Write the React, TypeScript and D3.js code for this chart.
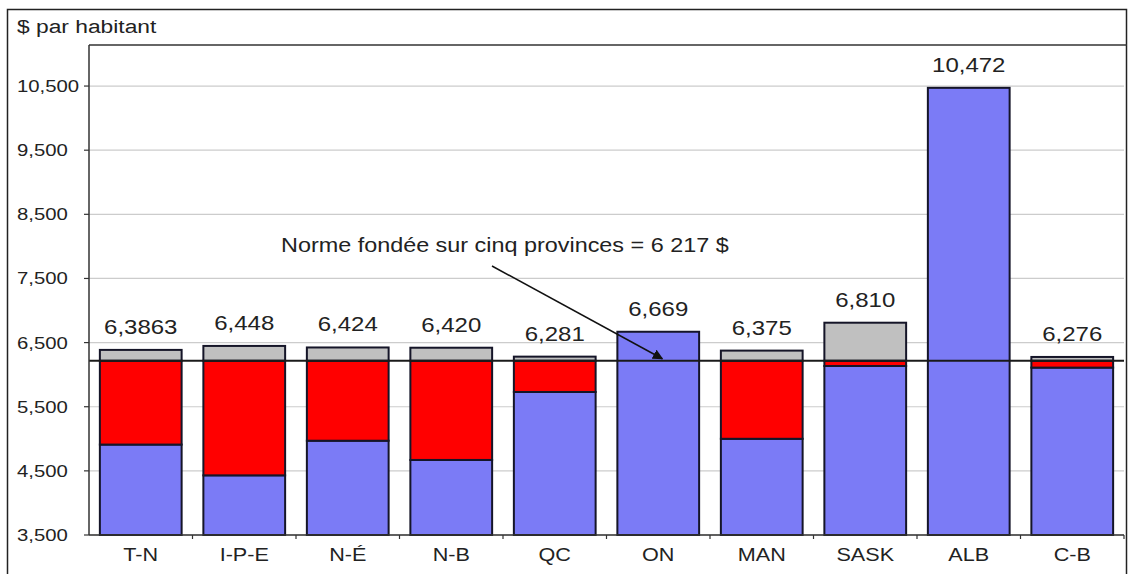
import React from "react";
import * as d3 from "d3";

const categories = ["T-N", "I-P-E", "N-É", "N-B", "QC", "ON", "MAN", "SASK", "ALB", "C-B"];
const ownCapacity = [4910, 4430, 4970, 4670, 5730, 6669, 5000, 6135, 10472, 6110];
const equalization = [1307, 1787, 1247, 1547, 487, 0, 1217, 82, 0, 107];
const aboveNorm = [169, 231, 207, 203, 64, 0, 158, 593, 0, 59];
const totalLabels = ["6,3863", "6,448", "6,424", "6,420", "6,281", "6,669", "6,375", "6,810", "10,472", "6,276"];
const yTicks = [3500, 4500, 5500, 6500, 7500, 8500, 9500, 10500];
const yDomain = [3500, 11140];
const normValue = 6217;
const normLabel = "Norme fondée sur cinq provinces = 6 217 $";
const yTitle = "$ par habitant";

const W = 1129;
const H = 574;
const M = { left: 89, right: 1124, top: 45, bottom: 535 };
const FONT = "'Liberation Sans', Arial, sans-serif";
const SX = 1.2;
const TEXT = "#222";
const COLORS = ["#7b7bf6", "#ff0000", "#c0c0c0"];
const STROKE = "#151528";

function T({ x, y, size, anchor = "start", children, sx = SX }: any) {
  return (
    <text
      transform={`translate(${x},${y}) scale(${sx},1)`}
      fontSize={size}
      fontFamily={FONT}
      fill={TEXT}
      textAnchor={anchor}
    >
      {children}
    </text>
  );
}

export default function App() {
  const x = d3.scaleBand<string>().domain(categories).range([M.left, M.right]).paddingInner(0.21).paddingOuter(0.105);
  const y = d3.scaleLinear().domain(yDomain).range([M.bottom, M.top]);

  const rows = categories.map((c, i) => ({ c, own: ownCapacity[i], eq: equalization[i], above: aboveNorm[i] }));
  const stack = d3.stack<any>().keys(["own", "eq", "above"]).value((d, k) => d[k] - (k === "own" ? yDomain[0] : 0));
  const series = stack(rows);

  const step = x.step();
  const yNorm = y(normValue);
  const onX = (x("ON") as number) + x.bandwidth() * 0.55;
  const arrowStart = [492, 266];
  const arrowEnd = [onX, yNorm - 2];

  return (
    <svg width={W} height={H} style={{ position: "absolute", left: 0, top: 0, background: "#fff" }}>
      <defs>
        <marker id="ah" viewBox="0 0 10 10" refX="9" refY="5" markerWidth="7" markerHeight="7" orient="auto">
          <path d="M0,0 L10,5 L0,10 z" fill="#111" />
        </marker>
      </defs>
      <rect x={7.5} y={9.5} width={1119} height={570} fill="#fff" stroke="#222" strokeWidth={1.5} />
      <T x={17} y={33} size={19}>{yTitle}</T>

      {yTicks.map((t) => (
        <g key={t}>
          <line x1={M.left} x2={M.right} y1={y(t)} y2={y(t)} stroke="#cccccc" strokeWidth={1.2} />
          <line x1={M.left - 5} x2={M.left} y1={y(t)} y2={y(t)} stroke="#333" strokeWidth={1.2} />
          <T x={17} y={y(t) + 6} size={16} sx={1.27}>{d3.format(",")(t)}</T>
        </g>
      ))}

      {series.map((s, si) =>
        s.map((d: any, i: number) => {
          const v0 = d[0] + yDomain[0];
          const v1 = d[1] + yDomain[0];
          if (d[1] - d[0] <= 0) return null;
          return (
            <rect
              key={si + "-" + i}
              x={x(categories[i])}
              width={x.bandwidth()}
              y={y(v1)}
              height={y(v0) - y(v1)}
              fill={COLORS[si]}
              stroke={STROKE}
              strokeWidth={2}
            />
          );
        })
      )}

      <line x1={M.left} x2={M.right} y1={yNorm} y2={yNorm} stroke="#1a1a1a" strokeWidth={2} />

      <line x1={M.left} x2={M.right + 3} y1={M.top} y2={M.top} stroke="#333" strokeWidth={1.5} />
      <line x1={M.left} x2={M.left} y1={M.top} y2={M.bottom} stroke="#333" strokeWidth={1.5} />
      <line x1={M.left} x2={M.right} y1={M.bottom} y2={M.bottom} stroke="#333" strokeWidth={1.5} />
      {categories.map((c, i) => (
        <line key={"xt" + i} x1={M.left + step * (i + 1)} x2={M.left + step * (i + 1)} y1={M.bottom} y2={M.bottom + 4} stroke="#333" strokeWidth={1.2} />
      ))}

      {categories.map((c, i) => {
        const top = ownCapacity[i] + equalization[i] + aboveNorm[i];
        const cx = (x(c) as number) + x.bandwidth() / 2;
        return (
          <g key={"lb" + c}>
            <T x={cx} y={y(top) - 16} size={20} anchor="middle">{totalLabels[i]}</T>
            <T x={cx} y={561} size={18} anchor="middle">{c}</T>
          </g>
        );
      })}

      <T x={281} y={252} size={19.5}>{normLabel}</T>
      <line x1={arrowStart[0]} y1={arrowStart[1]} x2={arrowEnd[0]} y2={arrowEnd[1]} stroke="#111" strokeWidth={1.5} markerEnd="url(#ah)" />
    </svg>
  );
}
